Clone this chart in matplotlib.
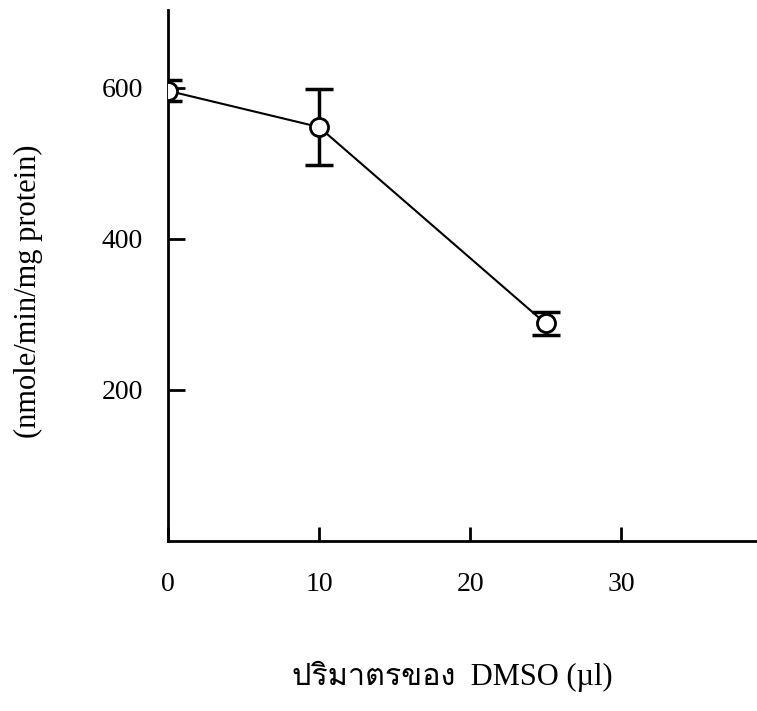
import numpy as np
import matplotlib.pyplot as plt
from matplotlib import font_manager
from matplotlib.ft2font import FT2Font

# data
dmso_ul = [0, 10, 25]
activity = [596, 548, 288]          # nmole/min/mg protein
activity_err = [14, 50, 15]

x_ticks = [0, 10, 20, 30]
y_ticks = [200, 400, 600]


def thai_families():
    # look for any installed font that has Thai letters
    found = []
    for f in font_manager.fontManager.ttflist:
        try:
            cmap = FT2Font(f.fname).get_charmap()
        except Exception:
            continue
        if 0x0E1B in cmap and f.name not in found:
            found.append(f.name)
    return found


SERIF = ['Liberation Serif', 'DejaVu Serif', 'DejaVu Sans']
plt.rcParams['font.family'] = SERIF

fig = plt.figure(figsize=(7.57, 7.11), dpi=100)
ax = fig.add_axes([0.222, 0.239, 0.778, 0.747])

ax.errorbar(dmso_ul, activity, yerr=activity_err, fmt='-', color='black',
            lw=1.5, elinewidth=2.5, capsize=10, capthick=2.5, zorder=2)
ax.plot(dmso_ul, activity, 'o', ms=13, mfc='white', mec='black', mew=2,
        zorder=3)

ax.set_xlim(0, 39)
ax.set_ylim(0, 703)
ax.set_xticks(x_ticks)
ax.set_yticks(y_ticks)

for s in ['top', 'right']:
    ax.spines[s].set_visible(False)
for s in ['left', 'bottom']:
    ax.spines[s].set_linewidth(2)

ax.tick_params(axis='x', direction='in', length=10, width=2, pad=22,
               labelsize=20)
ax.tick_params(axis='y', direction='in', length=12, width=2, pad=18,
               labelsize=20)

ax.set_ylabel('(nmole/min/mg protein)', fontsize=22)
ax.yaxis.set_label_coords(-0.212, 0.47)

thai = thai_families()
ax.set_xlabel('ปริมาตรของ  DMSO (µl)', fontsize=22,
              family=['Liberation Serif'] + thai + ['DejaVu Sans'])
ax.xaxis.set_label_coords(0.482, -0.225)

fig.savefig('out.png', dpi=100)
